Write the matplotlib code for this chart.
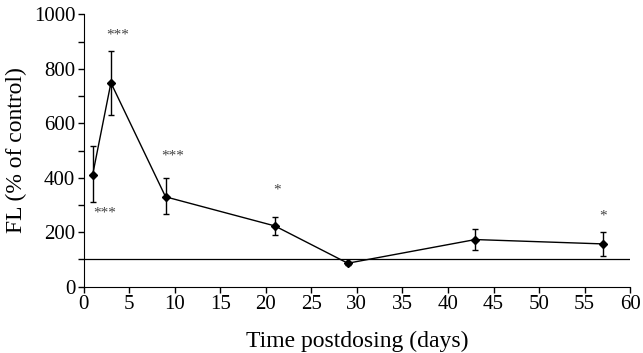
import matplotlib.pyplot as plt
import numpy as np

plt.rcParams['font.family'] = ['Liberation Serif', 'DejaVu Serif']

days = [1, 3, 9, 21, 29, 43, 57]
fl = [412, 749, 330, 223, 86, 173, 157]
err_hi = [518, 865, 398, 257, 92, 211, 200]
err_lo = [310, 629, 267, 189, 80, 135, 114]

# significance labels: (x, y, text)
sig_x = [3.7, 2.3, 9.8, 21.2, 57.0]
sig_y = [925, 270, 480, 355, 260]
sig_txt = ['***', '***', '***', '*', '*']

fl = np.array(fl)
yerr = [fl - np.array(err_lo), np.array(err_hi) - fl]

fig = plt.figure(figsize=(6.43, 3.53), dpi=100)
ax = fig.add_axes([0.130, 0.188, 0.850, 0.771])

ax.axhline(100, color='black', lw=0.9)
ax.errorbar(days, fl, yerr=yerr, color='black', lw=1, marker='D', ms=4,
            capsize=2.5, elinewidth=1, capthick=1)

for x, y, t in zip(sig_x, sig_y, sig_txt):
    ax.text(x, y, t, ha='center', va='center', fontsize=11, color='#444444')

ax.set_xlim(0, 60)
ax.set_ylim(0, 1000)
ax.set_xticks(np.arange(0, 61, 5))
ax.set_yticks(np.arange(0, 1001, 200))
ax.set_yticks(np.arange(100, 1000, 200), minor=True)
ax.tick_params(axis='both', labelsize=15, direction='out', length=4, width=1, pad=2)
ax.tick_params(axis='y', which='minor', length=4, width=1)
ax.spines['top'].set_visible(False)
ax.spines['right'].set_visible(False)
ax.set_xlabel('Time postdosing (days)', fontsize=17, labelpad=12)
ax.set_ylabel('FL (% of control)', fontsize=17, labelpad=5)

fig.savefig('out.png', dpi=100)
